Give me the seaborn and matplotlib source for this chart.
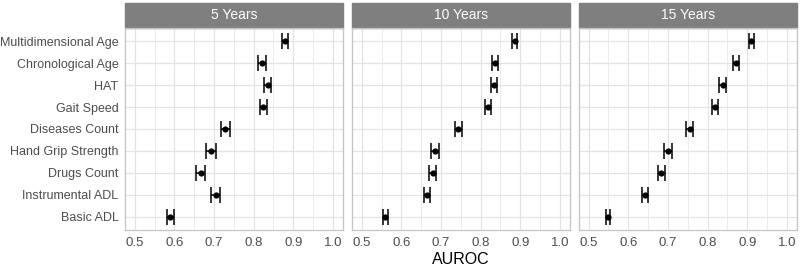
import pandas as pd
import matplotlib
matplotlib.use("Agg")
import matplotlib.pyplot as plt
import seaborn as sns
from matplotlib.patches import Rectangle

# Predictors, top to bottom as shown
predictors = [
    "Multidimensional Age",
    "Chronological Age",
    "HAT",
    "Gait Speed",
    "Diseases Count",
    "Hand Grip Strength",
    "Drugs Count",
    "Instrumental ADL",
    "Basic ADL",
]
horizons = ["5 Years", "10 Years", "15 Years"]

# AUROC point estimates per horizon
auc_5 = [0.879, 0.822, 0.835, 0.824, 0.729, 0.692, 0.666, 0.704, 0.590]
auc_10 = [0.886, 0.837, 0.833, 0.819, 0.744, 0.684, 0.679, 0.664, 0.560]
auc_15 = [0.910, 0.871, 0.838, 0.818, 0.755, 0.700, 0.683, 0.642, 0.549]

# half-width of the confidence intervals
err_5 = [0.008, 0.010, 0.009, 0.009, 0.011, 0.012, 0.011, 0.011, 0.008]
err_10 = [0.007, 0.008, 0.008, 0.008, 0.009, 0.010, 0.009, 0.008, 0.006]
err_15 = [0.006, 0.007, 0.008, 0.008, 0.009, 0.009, 0.009, 0.007, 0.005]

rows = []
for h, aucs, errs in zip(horizons, [auc_5, auc_10, auc_15], [err_5, err_10, err_15]):
    for p, a, e in zip(predictors, aucs, errs):
        rows.append({"horizon": h, "predictor": p, "auc": a, "lo": a - e, "hi": a + e})
df = pd.DataFrame(rows)

sns.set_theme(style="white")
plt.rcParams["font.family"] = ["Liberation Sans", "DejaVu Sans"]

TXT = "#4d4d4d"
GRID = "#e3e3e3"
BORDER = "#c4c4c4"
STRIP = "#7f7f7f"

g = sns.FacetGrid(df, col="horizon", col_order=horizons, sharey=True, sharex=True)
g.figure.set_size_inches(8, 2.68)
g.figure.set_dpi(100)

ypos = {p: len(predictors) - 1 - i for i, p in enumerate(predictors)}


def draw(data, **kws):
    ax = plt.gca()
    y = data["predictor"].map(ypos)
    ax.errorbar(data["auc"], y,
                xerr=[data["auc"] - data["lo"], data["hi"] - data["auc"]],
                fmt="none", ecolor="black", elinewidth=1.1, capsize=5.5, capthick=1.1, zorder=3)
    sns.scatterplot(x=data["auc"], y=y, color="black", s=20, edgecolor="black",
                    linewidth=0, ax=ax, zorder=4)


g.map_dataframe(draw)

for ax, h in zip(g.axes.flat, horizons):
    ax.set_xlim(0.475, 1.025)
    ax.set_ylim(-0.6, len(predictors) - 0.4)
    ax.set_xticks([0.5, 0.6, 0.7, 0.8, 0.9, 1.0])
    ax.set_xticklabels(["0.5", "0.6", "0.7", "0.8", "0.9", "1.0"])
    ax.set_xticks([0.55, 0.65, 0.75, 0.85, 0.95], minor=True)
    ax.set_yticks([ypos[p] for p in predictors])
    ax.set_yticklabels(predictors)
    ax.grid(True, which="major", color=GRID, linewidth=0.9)
    ax.grid(True, which="minor", axis="x", color=GRID, linewidth=0.5)
    ax.set_axisbelow(True)
    for s in ax.spines.values():
        s.set_visible(True)
        s.set_color(BORDER)
        s.set_linewidth(0.9)
    ax.tick_params(axis="both", which="major", length=2.5, width=0.8, color=BORDER,
                   labelcolor=TXT, labelsize=9, pad=2)
    ax.tick_params(axis="x", which="major", labelsize=9.5, pad=2.5)
    ax.tick_params(axis="x", which="minor", length=0)
    ax.set_title("")
    ax.set_xlabel("")
    ax.set_ylabel("")
    ax.add_patch(Rectangle((0, 1.0), 1, 0.124, transform=ax.transAxes,
                           facecolor=STRIP, edgecolor=STRIP, clip_on=False))
    ax.text(0.5, 1.062, h, transform=ax.transAxes, ha="center", va="center",
            color="white", fontsize=10)

g.figure.subplots_adjust(left=0.156, right=0.996, top=0.8955, bottom=0.142, wspace=0.041)
g.figure.text(0.5 * (0.156 + 0.996), 0.03, "AUROC", ha="center", va="center",
              fontsize=11.5, color="black")

g.figure.savefig("out.png", dpi=100)
